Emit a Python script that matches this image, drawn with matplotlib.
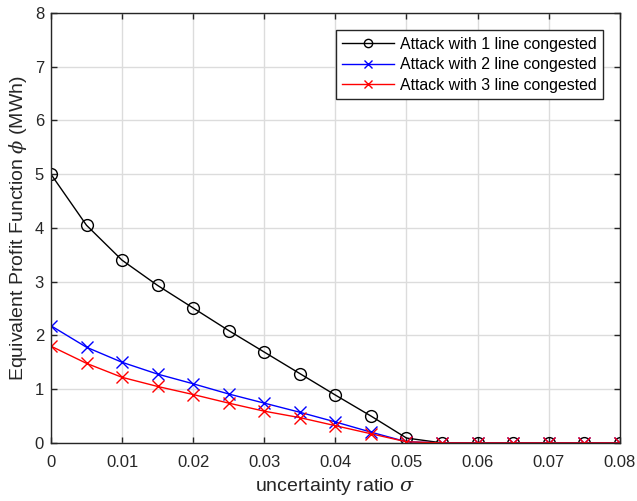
import matplotlib
matplotlib.use("Agg")
import matplotlib.pyplot as plt

plt.rcParams['font.family'] = ['Liberation Sans', 'DejaVu Sans']
plt.rcParams['mathtext.fontset'] = 'dejavuserif'

sigma = [0, 0.005, 0.01, 0.015, 0.02, 0.025, 0.03, 0.035, 0.04, 0.045, 0.05,
         0.055, 0.06, 0.065, 0.07, 0.075, 0.08]
line1 = [5.0, 4.05, 3.4, 2.93, 2.51, 2.09, 1.69, 1.29, 0.89, 0.5, 0.09,
         0, 0, 0, 0, 0, 0]
line2 = [2.18, 1.78, 1.5, 1.28, 1.1, 0.91, 0.74, 0.57, 0.39, 0.2, 0.02,
         0, 0, 0, 0, 0, 0]
line3 = [1.8, 1.48, 1.22, 1.05, 0.9, 0.74, 0.59, 0.47, 0.32, 0.17, 0.02,
         0, 0, 0, 0, 0, 0]
labels = ['Attack with 1 line congested', 'Attack with 2 line congested',
          'Attack with 3 line congested']

fig = plt.figure(figsize=(6.37, 5.01), dpi=100)
ax = fig.add_axes([0.080, 0.116, 0.893, 0.858])

ax.plot(sigma, line1, '-o', color='black', lw=1, markersize=8.5,
        markerfacecolor='none', markeredgewidth=1, label=labels[0])
ax.plot(sigma, line2, '-x', color='blue', lw=1, markersize=8,
        markeredgewidth=1, label=labels[1])
ax.plot(sigma, line3, '-x', color='red', lw=1, markersize=8,
        markeredgewidth=1, label=labels[2])

ax.set_xlim(0, 0.08)
ax.set_ylim(0, 8)
ax.set_xticks([0, 0.01, 0.02, 0.03, 0.04, 0.05, 0.06, 0.07, 0.08])
ax.set_xticklabels(['0', '0.01', '0.02', '0.03', '0.04', '0.05', '0.06', '0.07', '0.08'])
ax.set_yticks(range(0, 9))
ax.grid(True, color='#dcdcdc', lw=1)
ax.set_axisbelow(True)
ax.tick_params(direction='in', length=4, width=1, labelsize=12, colors='#262626',
               top=True, right=True)
ax.tick_params(axis='x', pad=9)
ax.tick_params(axis='y', pad=5)
for s in ax.spines.values():
    s.set_color('#262626')
    s.set_linewidth(1)

ax.set_xlabel(r'uncertainty ratio $\sigma$', fontsize=14, color='#262626', labelpad=4)
ax.set_ylabel(r'Equivalent Profit Function $\phi$ (MWh)', fontsize=14, color='#262626', labelpad=4)

leg = ax.legend(loc='upper right', bbox_to_anchor=(0.970, 0.960), fontsize=11.4,
                frameon=True, fancybox=False, edgecolor='#262626', framealpha=1,
                handlelength=3.3, borderpad=0.4, labelspacing=0.36, handletextpad=0.35,
                markerscale=0.7, borderaxespad=0)
leg.get_frame().set_linewidth(1)

fig.savefig('out.png', dpi=100)
